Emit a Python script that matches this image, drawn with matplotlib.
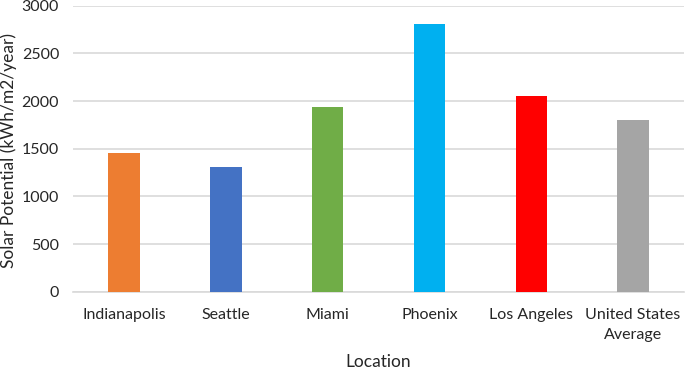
import matplotlib.pyplot as plt

# data
locations = ['Indianapolis', 'Seattle', 'Miami', 'Phoenix', 'Los Angeles', 'United States\nAverage']
potential = [1460, 1310, 1935, 2810, 2050, 1800]
colors = ['#ED7D31', '#4472C4', '#70AD47', '#00B0F0', '#FF0000', '#A5A5A5']
yticks = [0, 500, 1000, 1500, 2000, 2500, 3000]

plt.rcParams['font.family'] = ['Lato', 'DejaVu Sans']

fig = plt.figure(figsize=(6.85, 3.69), dpi=100)
ax = fig.add_axes([0.1066, 0.2095, 0.892, 0.775])

x = range(len(locations))
ax.bar(x, potential, width=0.31, color=colors, zorder=3)

ax.set_xlim(-0.5, len(locations) - 0.5)
ax.set_ylim(0, 3000)
ax.set_yticks(yticks)
ax.yaxis.grid(True, color='#d9d9d9', linewidth=1.2, zorder=0)
ax.set_xticks(list(x))
ax.set_xticklabels(locations, fontsize=11.5, color='#262626', linespacing=1.5)
ax.tick_params(axis='y', labelsize=11.5, labelcolor='#262626', length=0, pad=10)
ax.tick_params(axis='x', length=0, pad=12)

for s in ['top', 'right', 'left']:
    ax.spines[s].set_visible(False)
ax.spines['bottom'].set_color('#d9d9d9')
ax.spines['bottom'].set_linewidth(1.2)

# axis titles placed in figure coordinates
fig.text(9 / 685, 1 - 150 / 369, 'Solar Potential (kWh/m2/year)', rotation=90,
         ha='center', va='center', fontsize=12.5, color='#262626')
fig.text(378 / 685, 1 - 362 / 369, 'Location', ha='center', va='center',
         fontsize=12.5, color='#262626')

fig.savefig('out.png', dpi=100)
